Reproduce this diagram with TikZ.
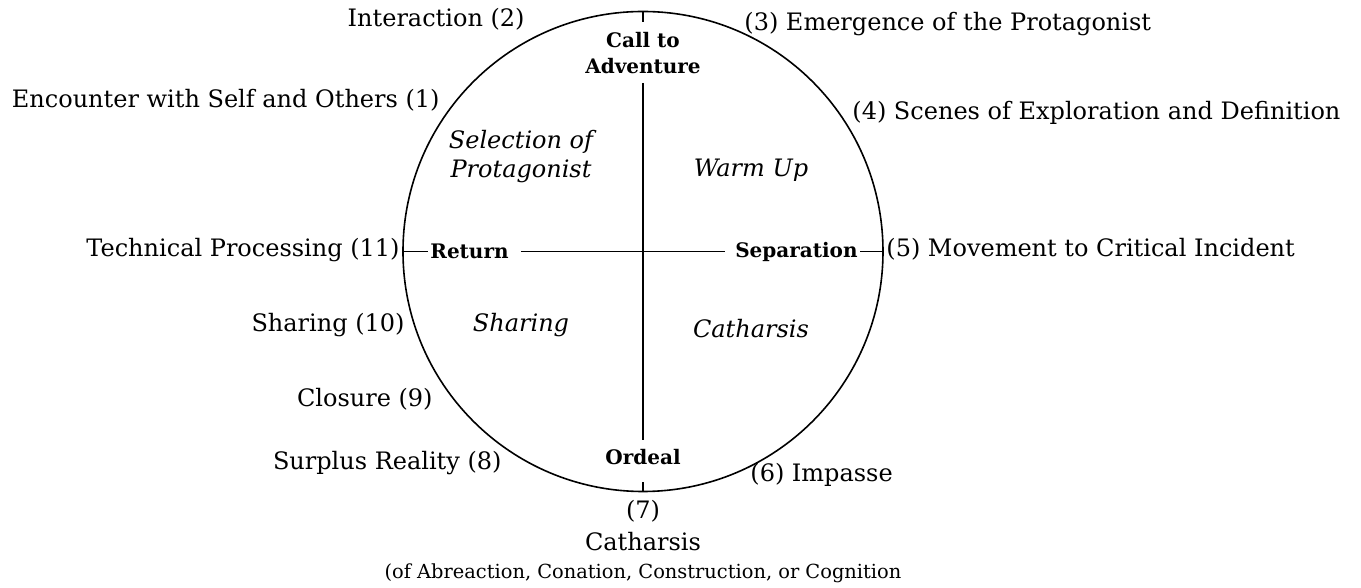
\documentclass[tikz,border=0pt]{standalone}
\usepackage{fontspec}
\setmainfont{DejaVu Serif}
\usetikzlibrary{positioning}

\begin{document}
\begin{tikzpicture}[
  x=0.5pt, y=0.5pt,
  every node/.style={font=\fontsize{12}{14}\selectfont},
  stage/.style={inner sep=0pt},
  phase/.style={font=\fontsize{10}{13}\selectfont\bfseries, inner ysep=4.5pt,
                inner xsep=1pt, align=center},
  quad/.style={font=\fontsize{12}{14.5}\selectfont\itshape, align=center},
  ln/.style={line width=0.8pt}
]
  \useasboundingbox (-643,-336.5) rectangle (718,251.5);
  \coordinate (c) at (0,0);
  \coordinate (top) at (90:240);
  \coordinate (bot) at (-90:240);
  \coordinate (lft) at (180:240);
  \coordinate (rgt) at (0:240);
  \draw[ln] (c) circle[radius=240];

  \node[phase, below=5.5pt of top] (call) {Call to\\Adventure};
  \node[phase, text depth=4.5pt, above=4.5pt of bot] (ordeal) {Ordeal};
  \node[phase, right=12.5pt of lft] (ret) {Return};
  \node[phase, left=11.5pt of rgt] (sep) {Separation};
  \draw[ln] (top) -- (call);
  \draw[ln] (call) -- (ordeal);
  \draw[ln] (ordeal) -- (bot);
  \draw[ln] (lft) -- (ret);
  \draw[ln, shorten <=5pt, shorten >=4pt] (ret) -- (sep);
  \draw[ln] (sep) -- (rgt);

  \node[quad] (selq) at (-122,94.5) {Selection of\\Protagonist};
  \node[quad, anchor=base] (warmq) at (108,74.5) {Warm Up};
  \node[quad, anchor=base] (shareq) at (-122,-80.5) {Sharing};
  \node[quad, anchor=base] (cathq) at (108,-86.5) {Catharsis};

  \node[stage, anchor=base east] (s1) at (-203,143.5) {Encounter with Self and Others (1)};
  \node[stage, anchor=base east] (s2) at (-118,224.5) {Interaction (2)};
  \node[stage, anchor=base west] (s3) at (101,220.5) {(3) Emergence of the Protagonist};
  \node[stage, anchor=base west] (s4) at (209,131.5) {(4) Scenes of Exploration and Definition};
  \node[stage, anchor=base west] (s5) at (243,-5.5) {(5) Movement to Critical Incident};
  \node[stage, anchor=base west] (s6) at (107,-230.5) {(6) Impasse};
  \node[stage, anchor=base] (s7) at (0,-267.5) {(7)};
  \node[stage, anchor=base] (s7name) at (0,-299.5) {Catharsis};
  \node[stage, anchor=base, font=\fontsize{9.7}{11}\selectfont] (s7sub) at (0,-327.5)
    {(of Abreaction, Conation, Construction, or Cognition};
  \node[stage, anchor=base east] (s8) at (-141,-218.5) {Surplus Reality (8)};
  \node[stage, anchor=base east] (s9) at (-210,-155.5) {Closure (9)};
  \node[stage, anchor=base east] (s10) at (-238,-80.5) {Sharing (10)};
  \node[stage, anchor=base east] (s11) at (-243,-5.5) {Technical Processing (11)};
\end{tikzpicture}
\end{document}
